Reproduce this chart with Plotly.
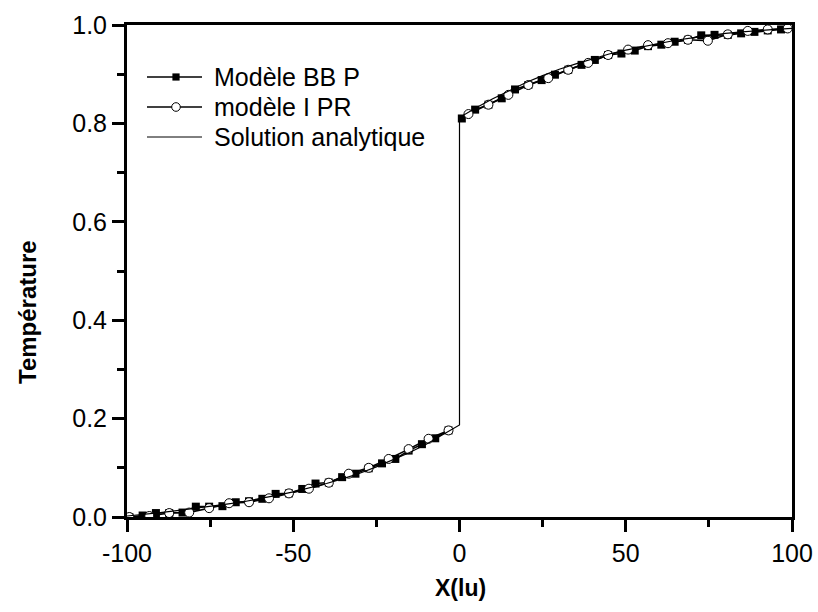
import plotly.graph_objects as go

# Modèle BB P (filled squares)
bbp_x = [-99.3, -95.3, -91.3, -87.3, -83.3, -79.3, -75.3, -71.3, -67.3, -63.3, -59.3, -55.3, -51.3,
         -47.3, -43.3, -39.3, -35.3, -31.3, -27.3, -23.3, -19.3, -15.3, -11.3, -7.3, -3.3,
         None,
         0.7, 4.7, 8.7, 12.7, 16.7, 20.7, 24.7, 28.7, 32.7, 36.7, 40.7, 44.7, 48.7,
         52.7, 56.7, 60.7, 64.7, 68.7, 72.7, 76.7, 80.7, 84.7, 88.7, 92.7, 96.7]
bbp_t = [0.0, 0.003, 0.008, 0.008, 0.009, 0.021, 0.021, 0.022, 0.030, 0.032, 0.037, 0.047, 0.048,
         0.057, 0.068, 0.070, 0.081, 0.088, 0.099, 0.109, 0.118, 0.135, 0.148, 0.160, 0.176,
         None,
         0.810, 0.828, 0.838, 0.851, 0.869, 0.878, 0.888, 0.899, 0.909, 0.919, 0.929, 0.939, 0.942,
         0.948, 0.957, 0.960, 0.966, 0.970, 0.979, 0.980, 0.980, 0.983, 0.986, 0.989, 0.991]

# modèle I PR (open circles)
ipr_x = [-99.3, -93.3, -87.3, -81.3, -75.3, -69.3, -63.3, -57.3, -51.3, -45.3, -39.3, -33.3,
         -27.3, -21.3, -15.3, -9.3, -3.3,
         None,
         2.7, 8.7, 14.7, 20.7, 26.7, 32.7, 38.7, 44.7, 50.7, 56.7, 62.7, 68.7, 74.7, 80.7,
         86.7, 92.7, 98.7]
ipr_t = [0.0, 0.002, 0.008, 0.009, 0.018, 0.028, 0.030, 0.038, 0.048, 0.0575, 0.0697, 0.088,
         0.100, 0.118, 0.138, 0.159, 0.176,
         None,
         0.819, 0.838, 0.858, 0.878, 0.892, 0.909, 0.923, 0.939, 0.950, 0.959, 0.963, 0.970,
         0.968, 0.981, 0.988, 0.991, 0.993]

# Solution analytique
ana_x = [-100, -95, -90, -85, -80, -75, -70, -65, -60, -55, -50, -45, -40, -35, -30, -25, -20,
         -15, -10, -5, 0, 0, 5, 10, 15, 20, 25, 30, 35, 40, 45, 50, 55, 60, 65, 70, 75, 80, 85,
         90, 95, 100]
ana_t = [0.002, 0.005, 0.009, 0.013, 0.017, 0.021, 0.026, 0.031, 0.037, 0.044, 0.051, 0.059,
         0.068, 0.078, 0.089, 0.102, 0.116, 0.131, 0.148, 0.167, 0.187, 0.812, 0.832, 0.850,
         0.867, 0.883, 0.897, 0.910, 0.921, 0.931, 0.941, 0.949, 0.956, 0.963, 0.969, 0.974,
         0.979, 0.983, 0.986, 0.989, 0.991, 0.993]

series_names = ["Modèle BB P", "modèle I PR", "Solution analytique"]
x_ticks = [-100, -50, 0, 50, 100]
y_ticks = [0.0, 0.2, 0.4, 0.6, 0.8, 1.0]

FONT = "Liberation Sans, Arial, sans-serif"
W, H = 818, 612
ML, MR, MT, MB = 127, 26, 25, 95
PW, PH = W - ML - MR, H - MT - MB


def px(xp):
    return (xp - ML) / PW


def py(yp):
    return (H - MB - yp) / PH


fig = go.Figure()
fig.add_trace(go.Scatter(
    x=bbp_x, y=bbp_t, mode="lines+markers", name=series_names[0], showlegend=False,
    line=dict(color="black", width=1.6),
    marker=dict(symbol="square", size=8, color="black", line=dict(color="black", width=0)),
    connectgaps=False))
fig.add_trace(go.Scatter(
    x=ipr_x, y=ipr_t, mode="lines+markers", name=series_names[1], showlegend=False,
    line=dict(color="black", width=1.6),
    marker=dict(symbol="circle", size=9, color="white", line=dict(color="black", width=1)),
    connectgaps=False))
fig.add_trace(go.Scatter(
    x=ana_x, y=ana_t, mode="lines", name=series_names[2], showlegend=False,
    line=dict(color="black", width=1.2)))

# legend drawn as layout decorations
rows = [77, 107, 137]
lx0, lx1, mx, tx = 147, 202, 176, 212
shapes = []
annotations = []
lw = [1.6, 1.6, 1.0]
for i, r in enumerate(rows):
    shapes.append(dict(type="line", xref="paper", yref="paper", x0=px(lx0), x1=px(lx1),
                       y0=py(r), y1=py(r), line=dict(color="black", width=lw[i])))
    annotations.append(dict(text=series_names[i], xref="paper", yref="paper", x=px(tx), y=py(r),
                            xanchor="left", yanchor="middle", showarrow=False,
                            font=dict(family=FONT, size=25, color="black")))
# square marker
s = 3.6
shapes.append(dict(type="rect", xref="paper", yref="paper", x0=px(mx - s), x1=px(mx + s),
                   y0=py(rows[0] + s), y1=py(rows[0] - s), fillcolor="black",
                   line=dict(color="black", width=0)))
# circle marker
c = 4.3
shapes.append(dict(type="circle", xref="paper", yref="paper", x0=px(mx - c), x1=px(mx + c),
                   y0=py(rows[1] + c), y1=py(rows[1] - c), fillcolor="white",
                   line=dict(color="black", width=1)))

annotations.append(dict(text="<b>Température</b>", textangle=-90, xref="paper", yref="paper",
                        x=px(28), y=py(312), xanchor="center", yanchor="middle", showarrow=False,
                        font=dict(family=FONT, size=24, color="black")))
annotations.append(dict(text="<b>X(lu)</b>", xref="paper", yref="paper",
                        x=px(460), y=py(588), xanchor="center", yanchor="middle", showarrow=False,
                        font=dict(family=FONT, size=23, color="black")))

fig.update_layout(
    width=W, height=H,
    margin=dict(l=ML, r=MR, t=MT, b=MB, autoexpand=False),
    paper_bgcolor="white", plot_bgcolor="white",
    font=dict(family=FONT, color="black", size=24),
    showlegend=False,
    xaxis=dict(range=[-100, 100], tickvals=x_ticks, ticktext=[str(v) for v in x_ticks],
               automargin=False,
               showgrid=False, zeroline=False, showline=True, linecolor="black", linewidth=3,
               mirror=True, ticks="outside", ticklen=12, tickwidth=3, tickcolor="black",
               tickfont=dict(family=FONT, size=25, color="black"),
               minor=dict(dtick=25, ticks="outside", ticklen=7, tickwidth=3, tickcolor="black",
                          showgrid=False)),
    yaxis=dict(range=[0, 1], tickvals=y_ticks, ticktext=["%.1f" % v for v in y_ticks],
               automargin=False,
               showgrid=False, zeroline=False, showline=True, linecolor="black", linewidth=3,
               mirror=True, ticks="outside", ticklen=12, tickwidth=3, tickcolor="black",
               tickfont=dict(family=FONT, size=25, color="black"),
               minor=dict(dtick=0.1, ticks="outside", ticklen=7, tickwidth=3, tickcolor="black",
                          showgrid=False)),
    shapes=shapes,
    annotations=annotations,
)

fig.write_html("out.html")
